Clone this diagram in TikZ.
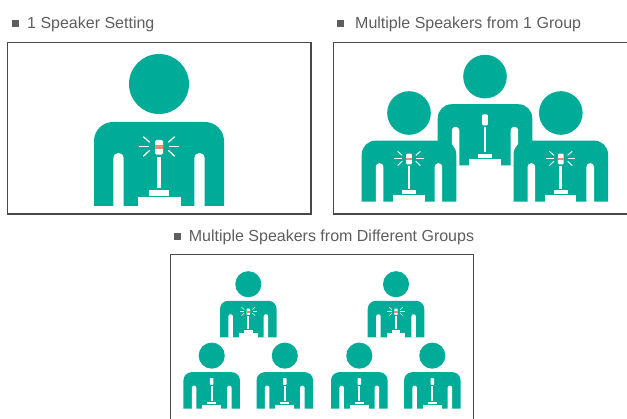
\documentclass[tikz,border=0pt]{standalone}
\usepackage{fontspec}
\setmainfont{Liberation Sans}
\usetikzlibrary{positioning}

\definecolor{speakergreen}{HTML}{00AC98}
\definecolor{micred}{HTML}{F58A68}
\definecolor{framegray}{HTML}{484848}
\definecolor{captiongray}{HTML}{5E5E5E}

% x, y of the feet, scale, 1 if the microphone is live
\newcommand{\speaker}[4]{
    \begin{scope}[shift={(#1,#2)}, scale=#3]
        \fill[speakergreen] (0,-122) circle (30);
        \fill[speakergreen] (-65,0) [rounded corners=#3*19pt] -- (-65,-84) -- (65,-84) [sharp corners] -- (65,0) -- cycle;
        \foreach \side in {-1,1} {
            \fill[white] (\side*35.3,0.5) [rounded corners=#3*5pt] -- (\side*35.3,-53) -- (\side*45.7,-53) [sharp corners] -- (\side*45.7,0.5) -- cycle;
        }
        \fill[white] (-21.5,0.5) rectangle (21.5,-9.3);
        \fill[white] (-10,-10) rectangle (10,-16);
        \ifnum#4=1
            \fill[white] (-2,-18) rectangle (2,-49);
            \fill[white, rounded corners=#3*1.5pt] (-4,-51.3) rectangle (4,-66);
            \fill[micred] (-4,-56.7) rectangle (4,-60.7);
            \foreach \side in {-1,1} {
                \draw[white, line width=#3*1.2pt] (\side*9.7,-59.7) -- (\side*20,-59.7);
                \draw[white, line width=#3*1.2pt] (\side*9.3,-63.7) -- (\side*15.7,-69.3);
                \draw[white, line width=#3*1.2pt] (\side*9.3,-55.7) -- (\side*15.7,-49.7);
            }
        \else
            \fill[white] (-2,-18) rectangle (2,-53);
            \fill[white, rounded corners=#3*1.5pt] (-4,-55) rectangle (4,-70);
        \fi
    \end{scope}
}

\begin{document}
\begin{tikzpicture}[
    x=1pt, y=-1pt,
    frame/.style={draw=framegray, line width=1.1pt},
    bullet/.style={fill=captiongray, inner sep=0pt, minimum size=6.8pt},
    caption/.style={anchor=base west, inner sep=0pt, text=captiongray, font=\fontsize{16}{18}\selectfont}
]
    \useasboundingbox (0,0) rectangle (627,419);
    \fill[white] (0,0) rectangle (627,419);

    \node (bulletone) [bullet] at (15.4,23.4) {};
    \node (captionone) [caption] at (27,28.2) {1 Speaker Setting};
    \node (bullettwo) [bullet] at (340.2,23.4) {};
    \node (captiontwo) [caption] at (355,28.2) {Multiple Speakers from 1 Group};
    \node (bulletthree) [bullet] at (177.7,236.3) {};
    \node (captionthree) [caption] at (188.7,241.7) {Multiple Speakers from Different Groups};

    \draw[frame] (7.5,42.7) rectangle (311,214);
    \draw[frame] (627,42.7) -- (333.3,42.7) -- (333.3,214) -- (627,214);
    \draw[frame] (170.3,419) -- (170.3,254.3) -- (473.5,254.3) -- (473.5,419);

    \speaker{159}{206}{1}{1}

    \speaker{485}{165.3}{0.727}{0}
    \speaker{409}{201.7}{0.727}{1}
    \speaker{560.8}{201.7}{0.727}{1}

    \foreach \px in {248.3,396} {
        \speaker{\px}{337.3}{0.435}{1}
    }
    \foreach \px in {211.7,284.8,359.3,432.3} {
        \speaker{\px}{408.7}{0.435}{0}
    }
\end{tikzpicture}
\end{document}
